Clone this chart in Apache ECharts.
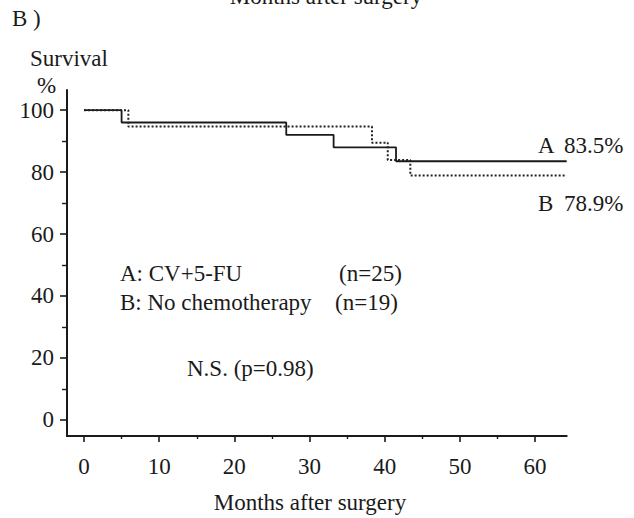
<!DOCTYPE html>
<html>
<head>
<meta charset="utf-8">
<script src="https://cdn.jsdelivr.net/npm/echarts@6/dist/echarts.min.js"></script>
<style>html,body{margin:0;padding:0;background:#fff;}#c{width:634px;height:518px;}</style>
</head>
<body>
<div id="c"></div>
<script>
// Kaplan-Meier curves (months, survival %)
const timesA = [0, 5.0, 26.9, 33.2, 41.5, 64.2];
const survA  = [100, 96.0, 92.0, 88.0, 83.5, 83.5];
const timesB = [0, 5.9, 38.3, 40.4, 43.4, 64.2];
const survB  = [100, 94.7, 89.5, 83.9, 78.9, 78.9];
// Axis ticks
const xMajor = [0, 10, 20, 30, 40, 50, 60];
const xMinor = [5, 15, 25, 35, 45, 55];
const yMajor = [0, 20, 40, 60, 80, 100];
const yMinor = [10, 30, 50, 70, 90];
// Texts
const panelLabel = 'B )';
const yName1 = 'Survival';
const yName2 = '%';
const xName = 'Months after surgery';
const legendA = ['A: CV+5-FU', '(n=25)'];
const legendB = ['B: No chemotherapy', '(n=19)'];
const pText = 'N.S. (p=0.98)';
const endA = ['A', '83.5%'];
const endB = ['B', '78.9%'];

const FONT = '"Liberation Serif", "DejaVu Serif", serif';
const FS = 23;
const INK = '#1a1a1a';

const zip = (xs, ys) => xs.map((x, i) => [x, ys[i]]);
const chart = echarts.init(document.getElementById('c'), null, {renderer: 'svg'});

const xBase = {
  type: 'value', min: -2.26, max: 64.2, position: 'bottom', gridIndex: 0,
  splitLine: {show: false}
};
const yBase = {
  type: 'value', min: -5.2, max: 106.5, position: 'left', gridIndex: 0,
  splitLine: {show: false}
};
function txt(text, x, y, align) {
  return {type: 'text', style: {text: text, x: x, y: y, font: FS + 'px ' + FONT, fill: INK,
    align: align || 'left', verticalAlign: 'middle'}};
}

chart.setOption({
  animation: false,
  backgroundColor: '#fff',
  grid: {left: 67, right: 67.3, top: 90, bottom: 82, containLabel: false},
  xAxis: [
    Object.assign({}, xBase, {
      axisLine: {show: true, onZero: false, lineStyle: {color: INK, width: 2}},
      axisTick: {show: true, length: 6, customValues: xMajor, lineStyle: {color: INK, width: 1.6}},
      axisLabel: {show: true, customValues: xMajor, margin: 19, color: INK, fontFamily: FONT, fontSize: FS}
    }),
    Object.assign({}, xBase, {
      axisLine: {show: false, onZero: false},
      axisTick: {show: true, length: 3, customValues: xMinor, lineStyle: {color: INK, width: 1.4}},
      axisLabel: {show: false}
    })
  ],
  yAxis: [
    Object.assign({}, yBase, {
      axisLine: {show: true, onZero: false, lineStyle: {color: INK, width: 2}},
      axisTick: {show: true, length: 7, customValues: yMajor, lineStyle: {color: INK, width: 1.6}},
      axisLabel: {show: true, customValues: yMajor, margin: 13, color: INK, fontFamily: FONT, fontSize: FS}
    }),
    Object.assign({}, yBase, {
      axisLine: {show: false, onZero: false},
      axisTick: {show: true, length: 5, customValues: yMinor, lineStyle: {color: INK, width: 1.4}},
      axisLabel: {show: false}
    })
  ],
  series: [
    {
      name: 'A', type: 'line', step: 'end', symbol: 'none', xAxisIndex: 0, yAxisIndex: 0,
      data: zip(timesA, survA),
      lineStyle: {color: INK, width: 1.8, type: 'solid'}
    },
    {
      name: 'B', type: 'line', step: 'end', symbol: 'none', xAxisIndex: 0, yAxisIndex: 0,
      data: zip(timesB, survB),
      lineStyle: {color: '#222', width: 2, type: [2, 2]}
    }
  ],
  graphic: [
    txt(xName, 326, -4, 'center'),
    txt(panelLabel, 12, 18),
    txt(yName1, 30, 58),
    txt(yName2, 37, 85),
    txt(legendA[0], 120, 273),
    txt(legendA[1], 339, 273),
    txt(legendB[0], 120, 302),
    txt(legendB[1], 335, 302),
    txt(pText, 187, 368),
    txt(endA[0], 538, 145),
    txt(endA[1], 564, 145),
    txt(endB[0], 538, 203),
    txt(endB[1], 564, 203),
    txt(xName, 310, 502, 'center')
  ]
});
</script>
</body>
</html>
